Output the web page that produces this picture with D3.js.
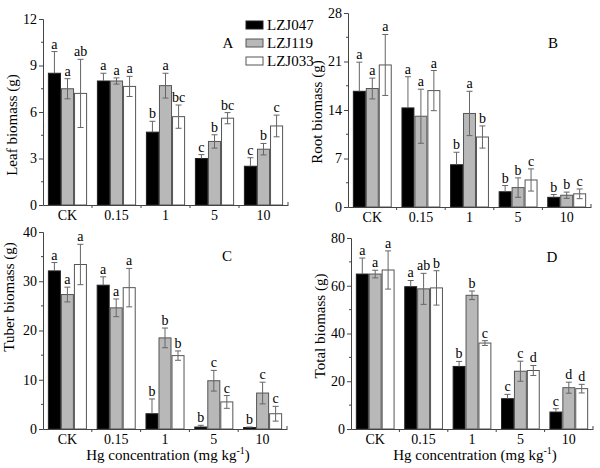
<!DOCTYPE html>
<html><head><meta charset="utf-8">
<script src="https://cdn.jsdelivr.net/npm/d3@7"></script>
<style>body{margin:0;background:#fff} text{font-family:"Liberation Serif","Times New Roman",serif;fill:#000}</style>
</head><body><svg id="c" width="600" height="468"></svg>
<script>
const categories = ["CK","0.15","1","5","10"];
const seriesNames = ["LZJ047","LZJ119","LZJ033"];

// Leaf biomass (g) — rows: LZJ047, LZJ119, LZJ033
const leafMean = [[8.5,8.0,4.7,3.0,2.5],[7.5,8.0,7.7,4.1,3.6],[7.2,7.65,5.7,5.6,5.1]];
const leafErr = [[1.4,0.5,0.7,0.25,0.55],[0.65,0.2,0.8,0.43,0.37],[2.2,0.65,0.75,0.36,0.7]];
const leafLetters = [["a","a","b","c","c"],["a","a","a","b","b"],["ab","a","bc","bc","c"]];
const leafTicks = [0,3,6,9,12];

// Root biomass (g)
const rootMean = [[16.7,14.3,6.1,2.2,1.4],[17.1,13.1,13.5,2.8,1.7],[20.5,16.8,10.1,3.9,1.9]];
const rootErr = [[4.2,4.5,1.8,0.9,0.4],[1.5,3.9,3.2,1.4,0.45],[4.4,2.9,1.6,1.6,0.7]];
const rootLetters = [["a","a","b","b","b"],["a","a","a","b","b"],["a","a","b","c","c"]];
const rootTicks = [0,7,14,21,28];

// Tuber biomass (g)
const tuberMean = [[32.1,29.2,3.1,0.4,0.3],[27.3,24.6,18.5,9.8,7.3],[33.4,28.7,14.9,5.5,3.1]];
const tuberErr = [[1.7,1.7,3.0,0.35,0.1],[1.5,1.8,2.0,2.1,2.2],[4.1,3.9,0.95,1.3,1.5]];
const tuberLetters = [["a","a","b","b","b"],["a","a","b","c","c"],["a","a","b","c","c"]];
const tuberTicks = [0,10,20,30,40];

// Total biomass (g)
const totalMean = [[64.9,59.6,26.2,12.7,7.1],[64.9,58.7,56.0,24.2,17.3],[66.6,59.1,36.0,24.5,16.9]];
const totalErr = [[6.7,2.6,2.1,1.8,1.4],[1.6,6.5,1.8,4.2,2.3],[8.0,7.2,1.0,2.1,1.8]];
const totalLetters = [["a","a","b","c","c"],["a","ab","b","c","d"],["a","b","c","d","d"]];
const totalTicks = [0,20,40,60,80];

const fills = ["#000000","#b8b8b8","#ffffff"];
const strokes = ["#222","#555","#555"];
const svg = d3.select("#c");
const axisColor = "#444";
const FONT = "Liberation Serif";

function panel(o){
  const g = svg.append("g");
  const x = d3.scaleBand().domain(categories).range([o.x0,o.x1]).paddingInner(0.2).paddingOuter(0.1);
  const xs = d3.scaleBand().domain(d3.range(3)).range([0,x.bandwidth()]);
  const ymax = o.ticks[o.ticks.length-1];
  const y = d3.scaleLinear().domain([0,ymax]).range([o.yb,o.yt]);
  const step = x.step();

  // bars
  o.mean.forEach((row,si)=>{
    g.selectAll(null).data(row).enter().append("rect")
      .attr("x",(d,i)=>x(categories[i])+xs(si)+0.5)
      .attr("y",d=>y(d))
      .attr("width",xs.bandwidth()-1)
      .attr("height",d=>y(0)-y(d))
      .attr("fill",fills[si]).attr("stroke",strokes[si]).attr("stroke-width",1);
  });
  // error bars + letters
  o.mean.forEach((row,si)=>{
    row.forEach((m,i)=>{
      const cx = x(categories[i])+xs(si)+xs.bandwidth()/2;
      const e = o.err[si][i];
      const col = "#666";
      const lo = si===0 ? m : Math.max(0,m-e);
      g.append("line").attr("x1",cx).attr("x2",cx).attr("y1",y(lo)).attr("y2",y(m+e))
        .attr("stroke",col).attr("stroke-width",1);
      const caps = si===0 ? [m+e] : [m+e, Math.max(0,m-e)];
      caps.forEach(v=>{
        g.append("line").attr("x1",cx-3).attr("x2",cx+3).attr("y1",y(v)).attr("y2",y(v))
          .attr("stroke",col).attr("stroke-width",1);
      });
      g.append("text").attr("x",cx).attr("y",y(m+e)-3).attr("text-anchor","middle")
        .attr("font-size",14).attr("font-family",FONT).attr("fill","#000").text(o.letters[si][i]);
    });
  });

  // y axis
  const ya = d3.axisLeft(y).tickValues(o.ticks).tickSize(4).tickPadding(2).tickFormat(d3.format("d"));
  const yg = g.append("g").attr("transform",`translate(${o.x0},0)`).call(ya);
  yg.select(".domain").attr("stroke",axisColor);
  yg.selectAll(".tick line").attr("stroke",axisColor);
  yg.selectAll("text").attr("font-size",14).attr("font-family",FONT).attr("fill","#000");
  const minor = [];
  for(let k=0;k<o.ticks.length-1;k++) minor.push((o.ticks[k]+o.ticks[k+1])/2);
  g.selectAll(null).data(minor).enter().append("line")
    .attr("x1",o.x0-2).attr("x2",o.x0).attr("y1",d=>y(d)).attr("y2",d=>y(d)).attr("stroke",axisColor);

  // x axis
  const xa = d3.axisBottom(x).tickSize(0).tickPadding(5);
  const xg = g.append("g").attr("transform",`translate(0,${o.yb})`).call(xa);
  xg.select(".domain").attr("stroke",axisColor);
  xg.selectAll("text").attr("font-size",14).attr("font-family",FONT).attr("fill","#000");
  const bounds = categories.slice(1).map(c=>x(c)-step*0.1);
  g.selectAll(null).data(bounds).enter().append("line")
    .attr("x1",d=>d).attr("x2",d=>d).attr("y1",o.yb).attr("y2",o.yb+3).attr("stroke",axisColor);
  g.append("line").attr("x1",o.x1).attr("x2",o.x1).attr("y1",o.yb).attr("y2",o.yb-3).attr("stroke",axisColor);

  // y title
  g.append("text").attr("transform",`translate(${o.tx},${o.ty}) rotate(-90)`)
    .attr("text-anchor","middle").attr("font-size",15).attr("font-family",FONT).attr("fill","#000").text(o.title);
  // panel letter
  g.append("text").attr("x",o.lx).attr("y",o.ly).attr("text-anchor","middle").attr("font-size",15)
    .attr("font-family",FONT).attr("fill","#000").text(o.letter);
  if(o.xtitle){
    const t = g.append("text").attr("x",(o.x0+o.x1)/2+3).attr("y",460).attr("text-anchor","middle")
      .attr("font-size",15).attr("font-family",FONT).attr("fill","#000");
    t.append("tspan").text("Hg concentration (mg kg");
    t.append("tspan").attr("dy",-6).attr("font-size",10).text("-1");
    t.append("tspan").attr("dy",6).text(")");
  }
}

panel({x0:43,x1:288,yt:19,yb:205,ticks:leafTicks,mean:leafMean,err:leafErr,letters:leafLetters,
  title:"Leaf biomass (g)",tx:17,ty:125,letter:"A",lx:228,ly:48});
panel({x0:348,x1:591,yt:13,yb:207,ticks:rootTicks,mean:rootMean,err:rootErr,letters:rootLetters,
  title:"Root biomass (g)",tx:322,ty:112,letter:"B",lx:553,ly:48});
panel({x0:43,x1:287,yt:232,yb:429,ticks:tuberTicks,mean:tuberMean,err:tuberErr,letters:tuberLetters,
  title:"Tuber biomass (g)",tx:14,ty:297,letter:"C",lx:227,ly:261,xtitle:true});
panel({x0:351,x1:593,yt:238,yb:429,ticks:totalTicks,mean:totalMean,err:totalErr,letters:totalLetters,
  title:"Total biomass (g)",tx:325,ty:326,letter:"D",lx:552,ly:262,xtitle:true});

// legend
const lg = svg.append("g");
seriesNames.forEach((s,i)=>{
  const yy = 21 + i*18;
  lg.append("rect").attr("x",246).attr("y",yy).attr("width",17).attr("height",8)
    .attr("fill",fills[i]).attr("stroke",strokes[i]);
  lg.append("text").attr("x",267).attr("y",yy+9).attr("font-size",15).attr("font-family",FONT)
    .attr("fill","#000").text(s);
});
</script></body></html>
